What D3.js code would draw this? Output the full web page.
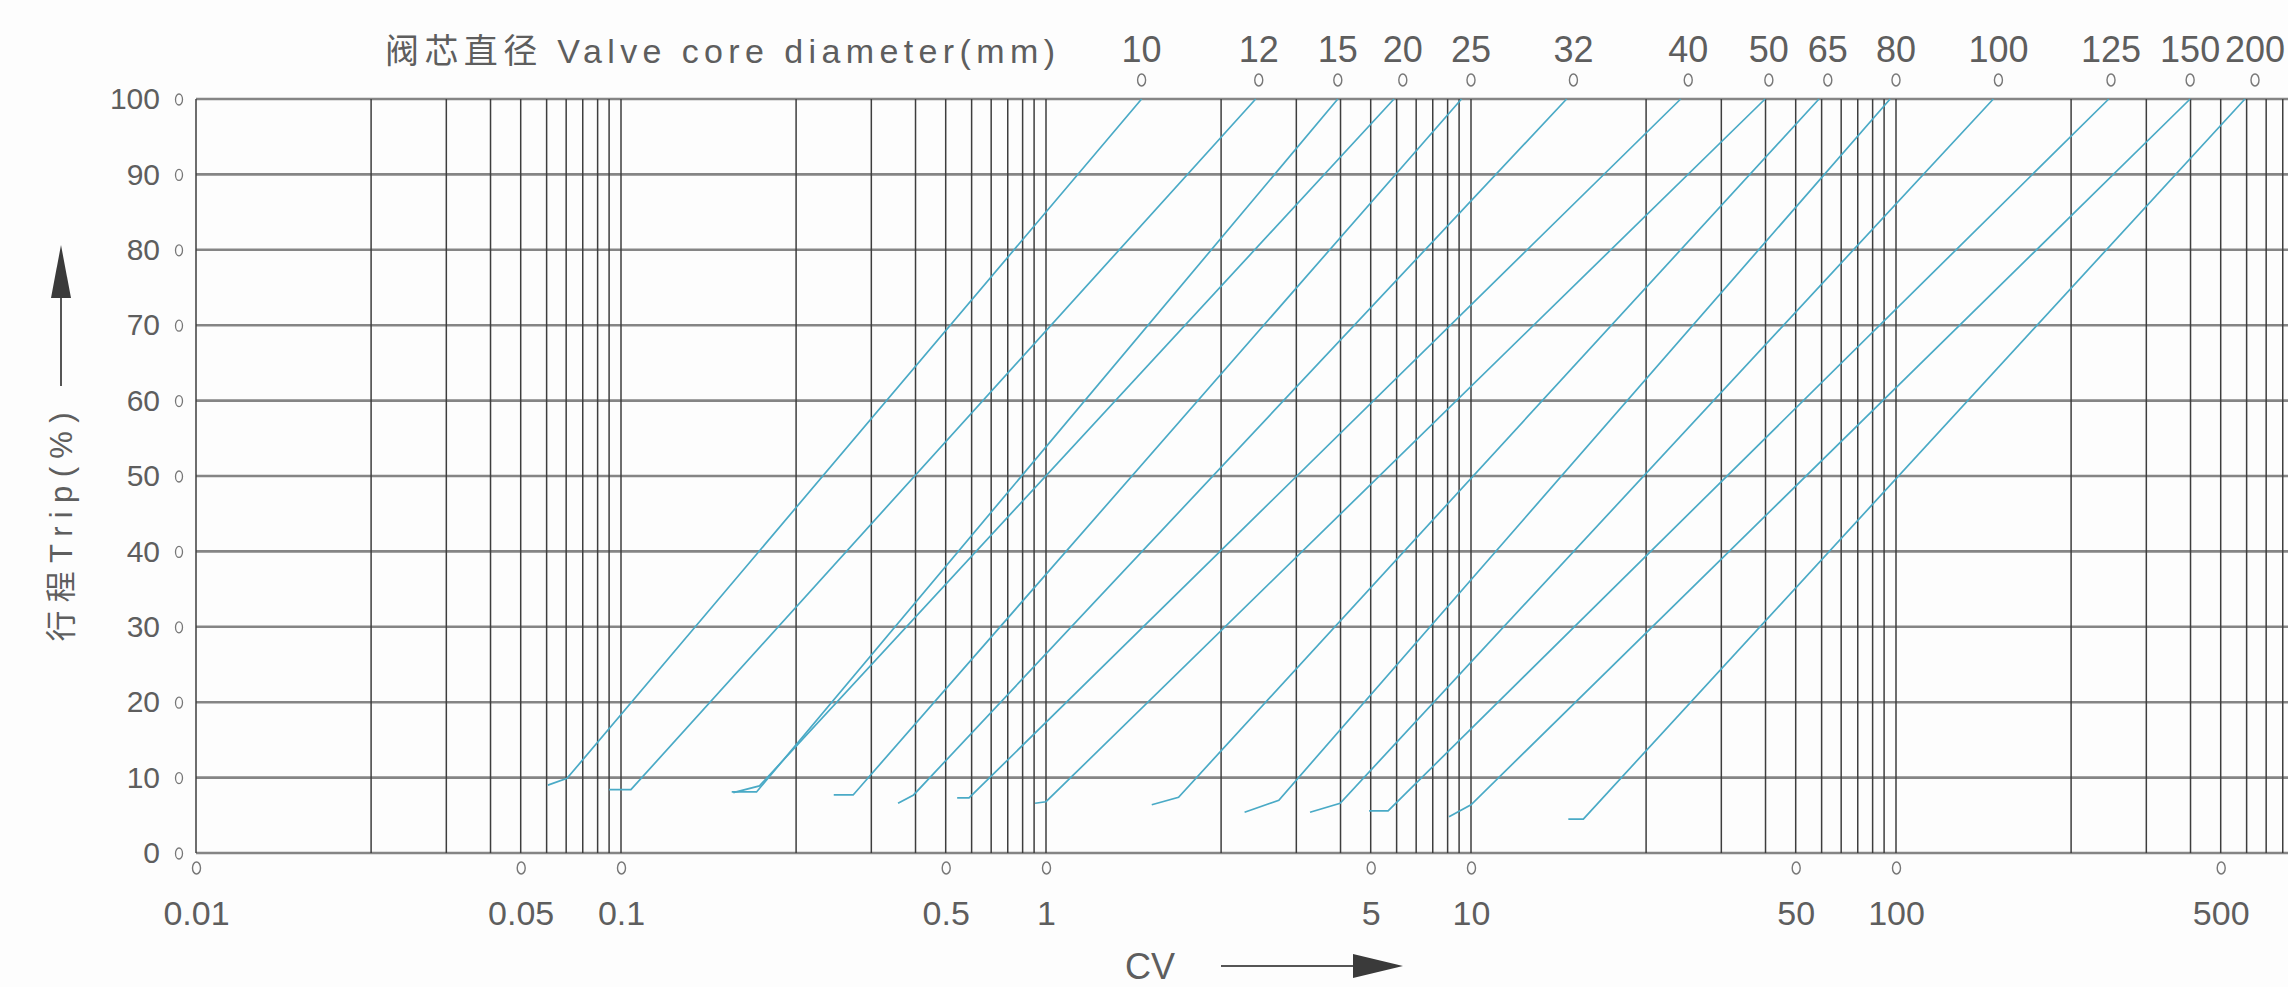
<!DOCTYPE html>
<html><head><meta charset="utf-8">
<script src="https://cdn.jsdelivr.net/npm/d3@7"></script>
<style>
html,body{margin:0;padding:0;background:#fdfdfd;}
svg{display:block;}
text{font-family:"Liberation Sans","Noto Sans CJK SC",Arial,sans-serif;fill:#5e5e5e;}
</style></head><body>
<svg id="chart" width="2288" height="987"></svg>
<script>
// ---------------- data ----------------
const tripTicks = [0,10,20,30,40,50,60,70,80,90,100];
const cvTicks = [0.01,0.05,0.1,0.5,1,5,10,50,100,500];
const cvTickLabels = ["0.01","0.05","0.1","0.5","1","5","10","50","100","500"];
const decadeStarts = [0.01,0.1,1,10,100];
const gridMantissas = [1,2,3,4,5,6,7,8,9,9.5];
const diameters = ["10","12","15","20","25","32","40","50","65","80","100","125","150","200"];
const ratedCv   = [1.46,2.45,3.93,6.3,10,15,25.1,41,63,100,150,248,399,641];
const startCv   = [0.0606,0.095,0.155,0.156,0.245,0.357,0.542,0.954,1.52,2.27,3.28,4.94,9.06,14.7];
const startTrip = [9.0,8.4,8.1,8.0,7.7,6.6,7.3,6.6,6.4,5.4,5.4,5.6,4.8,4.5];
const kinkCv    = [0.0705,0.104,0.171,0.173,0.272,0.395,0.589,1.00,1.69,2.73,3.99,5.65,10.0,15.6];
const kinkTrip  = [9.9,8.4,8.1,8.9,7.7,7.7,7.3,6.8,7.4,7.0,6.6,5.6,6.4,4.5];
const topCv     = [1.46,2.41,3.93,5.89,9.6,14.6,24.1,39.9,58.9,97.5,147,245,399,593];

// ------------- scales (custom printed log paper) -------------
const W = 2288, H = 987;
const X0 = 196, DEC = 425;                 // left edge & width of one decade
const mantissaFrac = [0,.412,.589,.693,.764,.825,.871,.910,.945,.972]; // ruling of the paper
const dom = [], rng = [];
decadeStarts.forEach((d,i)=>gridMantissas.forEach((m,j)=>{
  dom.push(+(m*d).toPrecision(6)); rng.push(X0 + (i + mantissaFrac[j]) * DEC);
}));
dom.push(1000); rng.push(X0 + 5*DEC);
const x = d3.scaleLog().domain(dom).range(rng);
const y = d3.scaleLinear().domain([0,100]).range([853,99]);

const svg = d3.select("#chart");
svg.append("rect").attr("width",W).attr("height",H).attr("fill","#fdfdfd");

// horizontal grid
svg.append("g").selectAll("line").data(tripTicks).join("line")
  .attr("x1",x(0.01)).attr("x2",W).attr("y1",d=>y(d)).attr("y2",d=>y(d))
  .attr("stroke","#858585").attr("stroke-width",2.6);

// vertical grid
svg.append("g").selectAll("line").data(dom.slice(0,-1)).join("line")
  .attr("x1",d=>x(d)).attr("x2",d=>x(d)).attr("y1",y(0)).attr("y2",y(100))
  .attr("stroke","#3e3e3e").attr("stroke-width",1.5);

// characteristic lines
const line = d3.line().x(d=>x(d[0])).y(d=>y(d[1]));
svg.append("g").selectAll("path").data(diameters.map((d,i)=>[
  [startCv[i],startTrip[i]],[kinkCv[i],kinkTrip[i]],[topCv[i],100]
])).join("path").attr("d",line).attr("fill","none")
  .attr("stroke","#4aaac6").attr("stroke-width",1.7);

// x axis
const gx = svg.append("g").attr("transform",`translate(0,${y(0)})`)
  .call(d3.axisBottom(x).tickValues(cvTicks).tickFormat((d,i)=>cvTickLabels[i]).tickSize(0).tickPadding(48));
gx.select(".domain").remove();
gx.selectAll("text").attr("font-size",34).attr("fill","#5e5e5e").attr("font-family",null);
gx.selectAll(".tick").append("ellipse").attr("cx",0).attr("cy",15).attr("rx",4).attr("ry",6)
  .attr("fill","none").attr("stroke","#777").attr("stroke-width",1.4);

// y axis
const gy = svg.append("g").attr("transform",`translate(${x(0.01)},0)`)
  .call(d3.axisLeft(y).tickValues(tripTicks).tickSize(0).tickPadding(36));
gy.select(".domain").remove();
gy.selectAll("text").attr("font-size",30).attr("fill","#5e5e5e").attr("font-family",null);
gy.selectAll(".tick").append("ellipse").attr("cx",-17).attr("cy",0).attr("rx",3.5).attr("ry",5.5)
  .attr("fill","none").attr("stroke","#777").attr("stroke-width",1.3);

// top diameter scale
const gt = svg.append("g");
gt.selectAll("text").data(diameters).join("text")
  .attr("x",(d,i)=>x(ratedCv[i])).attr("y",62).attr("text-anchor","middle")
  .attr("font-size",36).text(d=>d);
gt.selectAll("ellipse").data(diameters).join("ellipse")
  .attr("cx",(d,i)=>x(ratedCv[i])).attr("cy",80).attr("rx",4).attr("ry",6)
  .attr("fill","none").attr("stroke","#777").attr("stroke-width",1.4);

svg.append("text").attr("x",385).attr("y",63).attr("font-size",34)
  .attr("textLength",670).attr("lengthAdjust","spacing")
  .text("阀芯直径 Valve core diameter(mm)");

// y title with arrow
svg.append("text").attr("transform","translate(72,527) rotate(-90)")
  .attr("text-anchor","middle").attr("font-size",31)
  .attr("textLength",229).attr("lengthAdjust","spacing").text("行程Trip(%)");
svg.append("line").attr("x1",61).attr("x2",61).attr("y1",386).attr("y2",295)
  .attr("stroke","#555").attr("stroke-width",2);
svg.append("path").attr("d","M61,245 L71,298 L51,298 Z").attr("fill","#3a3a3a");

// x title with arrow
svg.append("text").attr("x",1150).attr("y",979).attr("text-anchor","middle")
  .attr("font-size",36).text("CV");
svg.append("line").attr("x1",1221).attr("x2",1358).attr("y1",966).attr("y2",966)
  .attr("stroke","#555").attr("stroke-width",2);
svg.append("path").attr("d","M1403,966 L1353,954 L1353,978 Z").attr("fill","#3a3a3a");
</script>
</body></html>
